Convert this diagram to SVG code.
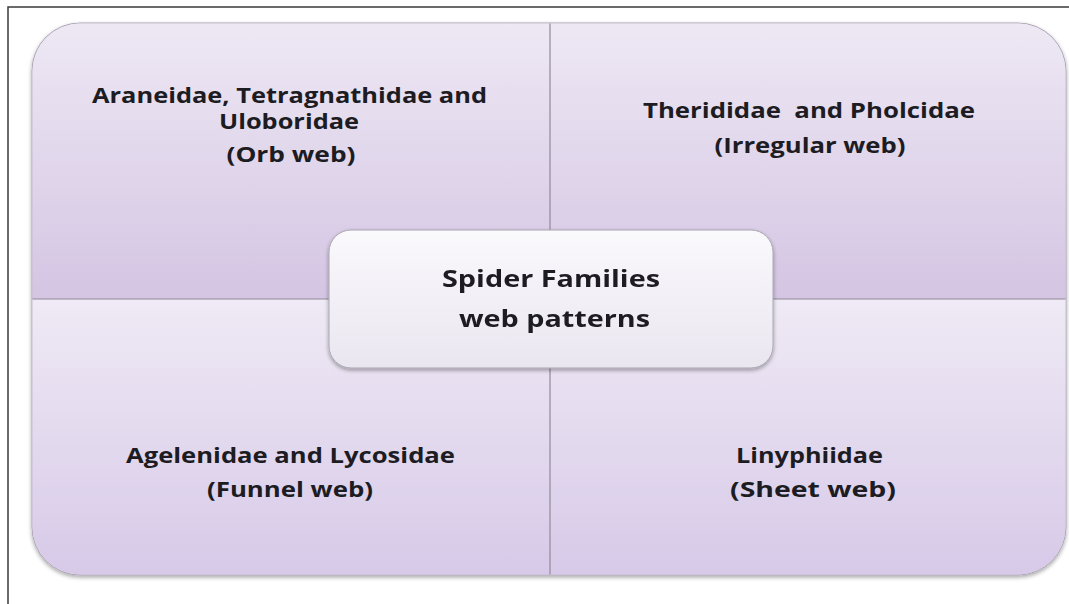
<svg xmlns="http://www.w3.org/2000/svg" width="1069" height="604" viewBox="0 0 1069 604">
  <defs>
    <linearGradient id="gTop" x1="0" y1="0" x2="0" y2="1">
      <stop offset="0" stop-color="#eee8f4"/>
      <stop offset="1" stop-color="#d4c5e3"/>
    </linearGradient>
    <linearGradient id="gBot" x1="0" y1="0" x2="0" y2="1">
      <stop offset="0" stop-color="#efeaf5"/>
      <stop offset="1" stop-color="#d7c9e8"/>
    </linearGradient>
    <linearGradient id="gCenter" x1="0" y1="0" x2="0" y2="1">
      <stop offset="0" stop-color="#faf9fc"/>
      <stop offset="1" stop-color="#eae6f0"/>
    </linearGradient>
    <filter id="shadow" x="-10%" y="-10%" width="120%" height="130%">
      <feGaussianBlur in="SourceAlpha" stdDeviation="2"/>
      <feOffset dx="0" dy="2" result="b"/>
      <feComponentTransfer><feFuncA type="linear" slope="0.35"/></feComponentTransfer>
      <feMerge><feMergeNode/><feMergeNode in="SourceGraphic"/></feMerge>
    </filter>
  </defs>
  <style>
    .t { font-family: "Open Sans", "Noto Sans", "Liberation Sans", sans-serif; font-weight: 700; fill: #1c1c22; text-anchor: middle; font-size: 21px; }
    .c { font-size: 23px; }
    .q { stroke: none; }
    .div { stroke: #8f8a98; stroke-width: 1.2; fill: none; }
    .frame { stroke: #3a3a3a; stroke-width: 1.5; fill: none; }
  </style>
  <rect x="0" y="0" width="1069" height="604" fill="#ffffff"/>
  <path class="frame" d="M8,604 V7 H1069"/>

  <g id="outline" filter="url(#shadow)">
    <rect x="32" y="23" width="1034" height="552" rx="48" ry="48" fill="#e2d8ec" stroke="#aaa3b3" stroke-width="1"/>
  </g>

  <g id="node-orb">
    <path class="q" fill="url(#gTop)" d="M32.5,299 V71 A48,48 0 0 1 80,23.5 H550 V299 Z"/>
    <text class="t" x="289.5" y="103" textLength="395" lengthAdjust="spacingAndGlyphs">Araneidae, Tetragnathidae and</text>
    <text class="t" x="289" y="129" textLength="140" lengthAdjust="spacingAndGlyphs">Uloboridae</text>
    <text class="t" x="291" y="162" textLength="129" lengthAdjust="spacingAndGlyphs">(Orb web)</text>
  </g>
  <g id="node-irregular">
    <path class="q" fill="url(#gTop)" d="M550,299 V23.5 H1018 A48,48 0 0 1 1065.5,71 V299 Z"/>
    <text class="t" x="809" y="118" textLength="332" lengthAdjust="spacingAndGlyphs" xml:space="preserve">Therididae  and Pholcidae</text>
    <text class="t" x="810" y="153" textLength="191" lengthAdjust="spacingAndGlyphs">(Irregular web)</text>
  </g>
  <g id="node-funnel">
    <path class="q" fill="url(#gBot)" d="M32.5,299 H550 V574.5 H80 A48,48 0 0 1 32.5,527 Z"/>
    <text class="t" x="290.5" y="463" textLength="329" lengthAdjust="spacingAndGlyphs">Agelenidae and Lycosidae</text>
    <text class="t" x="290" y="497" textLength="166" lengthAdjust="spacingAndGlyphs">(Funnel web)</text>
  </g>
  <g id="node-sheet">
    <path class="q" fill="url(#gBot)" d="M550,299 H1065.5 V527 A48,48 0 0 1 1018,574.5 H550 Z"/>
    <text class="t" x="809.5" y="463" textLength="147" lengthAdjust="spacingAndGlyphs">Linyphiidae</text>
    <text class="t" x="813" y="497" textLength="166" lengthAdjust="spacingAndGlyphs">(Sheet web)</text>
  </g>

  <g id="connectors">
    <line class="div" x1="550" y1="23.5" x2="550" y2="574.5"/>
    <line class="div" x1="32.5" y1="299" x2="1065.5" y2="299"/>
  </g>

  <g id="node-center" filter="url(#shadow)">
    <rect x="329" y="230" width="444" height="138" rx="22" ry="22" fill="url(#gCenter)" stroke="#aaa6b0" stroke-width="1"/>
    <text class="t c" x="551" y="287" textLength="218" lengthAdjust="spacingAndGlyphs">Spider Families</text>
    <text class="t c" x="554.5" y="327" textLength="191" lengthAdjust="spacingAndGlyphs">web patterns</text>
  </g>
</svg>
